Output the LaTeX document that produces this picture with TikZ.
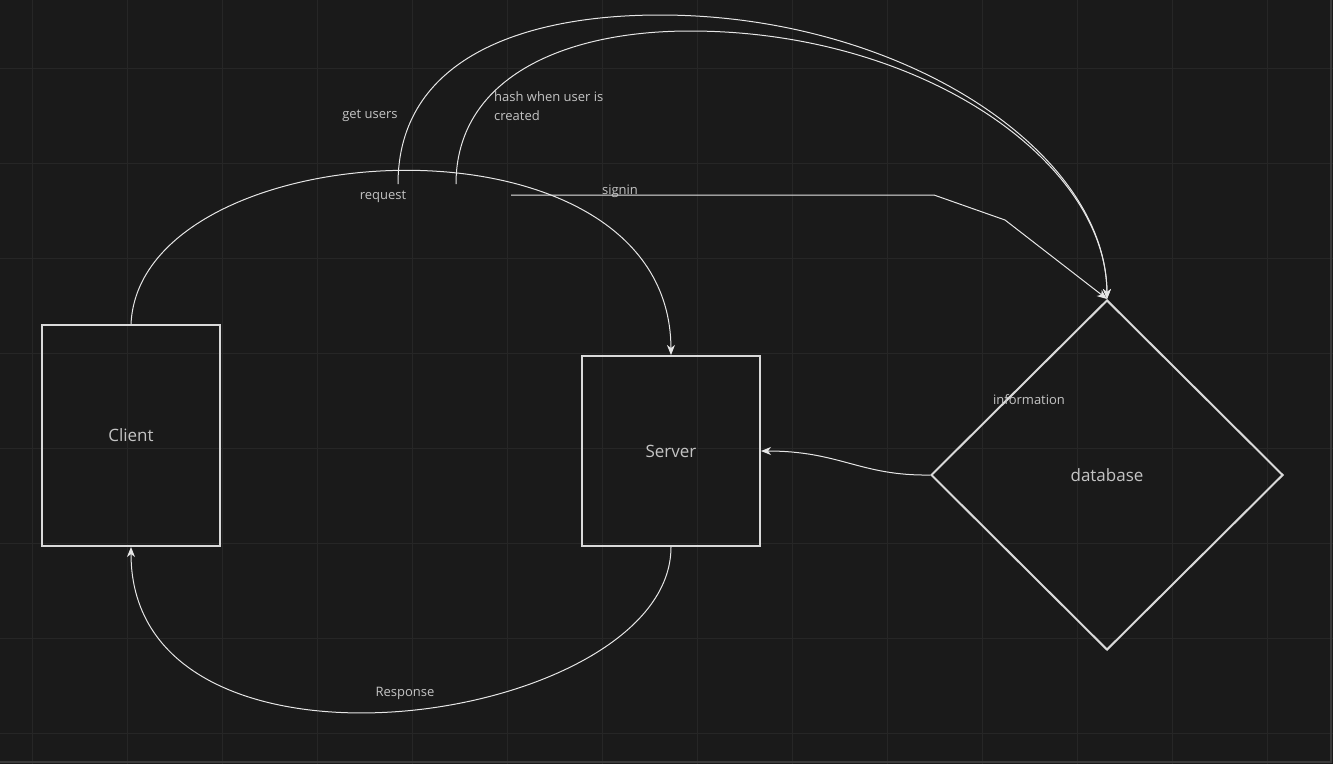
\documentclass[tikz,border=0pt]{standalone}
\usepackage{fontspec}
\setmainfont{Open Sans}
\usetikzlibrary{shapes.geometric,arrows.meta}
\definecolor{bgc}{HTML}{1A1A1A}
\definecolor{gridc}{HTML}{262626}
\definecolor{framec}{HTML}{3A3A3A}
\definecolor{edgec}{HTML}{E6E6E6}
\definecolor{boxc}{HTML}{D9D9D9}
\definecolor{txtc}{HTML}{C4C4C4}
\tikzset{
  box/.style={draw=boxc, line width=2pt, minimum width=178pt, inner sep=0pt, text=txtc, font=\fontsize{17}{20}\selectfont},
  lbl/.style={text=txtc, font=\fontsize{13}{19}\selectfont, inner sep=0pt},
  flow/.style={draw=edgec, line width=1pt, -{Stealth[length=10pt,width=8pt,inset=3pt]}}
}
\begin{document}
\begin{tikzpicture}[x=1pt,y=-1pt]
        \fill[bgc] (0,0) rectangle (1333,764);
        \useasboundingbox (0,0) rectangle (1333,764);
        \foreach \gx in {32,127,...,1267} \draw[gridc, line width=1pt] (\gx,0) -- (\gx,764);
        \foreach \gy in {68,163,...,733} \draw[gridc, line width=1pt] (0,\gy) -- (1333,\gy);
        \draw[framec, line width=1.5pt] (1331,0) -- (1331,762) -- (0,762);
        \node[box, minimum height=221pt] (cli) at (131,435.5) {Client};
        \node[box, minimum height=190pt] (srv) at (671,451) {Server};
        \node[box, diamond, aspect=1, minimum width=352pt, minimum height=350pt] (db) at (1107,475) {database};
        \coordinate (gu) at (398,184);
        \coordinate (hs) at (456,184);
        \coordinate (si) at (511,195);
        \draw[flow] (cli.north) .. controls (140,130) and (670,100) .. (srv.north);
        \draw[flow] (gu) .. controls (398,60) and (520,15) .. (660,15) .. controls (900,15) and (1106,150) .. (db.north);
        \draw[flow] (hs) .. controls (456,80) and (560,31) .. (690,31) .. controls (920,31) and (1106,160) .. (db.north);
        \draw[flow] (si) -- (934,195) -- (1005,220) -- (db.north);
        \draw[flow] (db.west) .. controls (860,476) and (840,451) .. (srv.east);
        \draw[flow] (srv.south) .. controls (671,725) and (131,805) .. (cli.south);
        \node[lbl] (getl) at (370,116) {get users};
        \node[lbl, align=left, anchor=west] (hashl) at (494,106) {hash when user is\\created};
        \node[lbl] (reql) at (383,197) {request};
        \node[lbl] (sigl) at (620,191) {signin};
        \node[lbl] (infl) at (1029,400) {information};
        \node[lbl] (resl) at (405,693) {Response};
    \end{tikzpicture}
\end{document}
